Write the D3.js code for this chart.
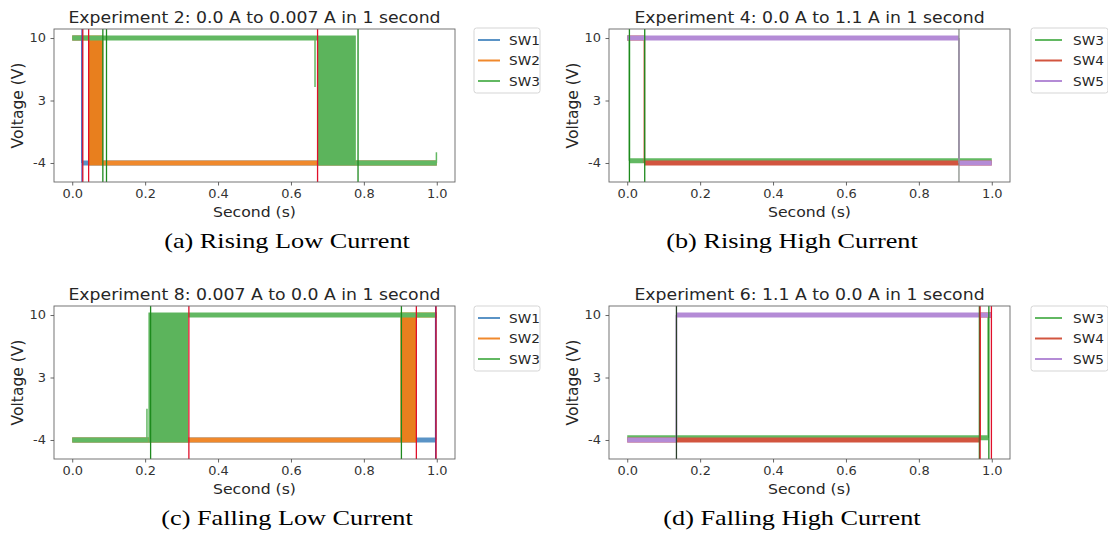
<!DOCTYPE html>
<html><head><meta charset="utf-8">
<script src="https://cdn.jsdelivr.net/npm/d3@7"></script>
<style>body{margin:0;background:#fff} svg{display:block}</style>
</head><body><svg id="c" width="1108" height="537"></svg>
<script>
// ---------- data ----------
const xTicks = [0, 0.2, 0.4, 0.6, 0.8, 1.0];
const yTicks = [-4, 3, 10];
const titles = [
  "Experiment 2: 0.0 A to 0.007 A in 1 second",
  "Experiment 4: 0.0 A to 1.1 A in 1 second",
  "Experiment 8: 0.007 A to 0.0 A in 1 second",
  "Experiment 6: 1.1 A to 0.0 A in 1 second"
];
const captions = ["(a) Rising Low Current", "(b) Rising High Current", "(c) Falling Low Current", "(d) Falling High Current"];
const legendLow = ["SW1", "SW2", "SW3"];
const legendHigh = ["SW3", "SW4", "SW5"];
const seriesColors = {SW1: "#5a93c6", SW2: "#f0892c", SW3: "#62b862", SW4: "#d2553f", SW5: "#b48bd6"};

// steady levels per switch: [t start (s), t end (s), volts]
const exp2Levels = {SW1: [[0, 0.027, 10], [0.027, 1.0, -4]], SW2: [[0, 0.045, 10], [0.085, 1.0, -4]], SW3: [[0, 0.673, 10], [0.778, 1.0, -4]]};
// chattering intervals (signal bouncing between -4 V and 10 V)
const exp2Bursts = {SW2: [[0.045, 0.085]], SW3: [[0.673, 0.778]]};
// isolated spikes: [t, from volts, to volts]
const exp2Spikes = {SW3: [[0.666, 10, 4.5], [0.999, -4, -2.8]]};
// vertical markers: [t, colour name]
const exp2Marks = [[0.027, "blue"], [0.029, "red"], [0.045, "red"], [0.084, "green"], [0.094, "green"], [0.673, "red"], [0.784, "green"]];

const exp4Levels = {SW3: [[0, 0.006, 10], [0.006, 1.0, -3.75]], SW4: [[0, 0.047, 10], [0.047, 1.0, -4]], SW5: [[0, 0.91, 10], [0.91, 1.0, -4]]};
const exp4Bursts = {};
const exp4Spikes = {};
const exp4Marks = [[0.006, "green"], [0.048, "green"], [0.91, "gray"]];

const exp8Levels = {SW1: [[0, 0.997, -4], [0.997, 1.0, 10]], SW2: [[0, 0.9, -4], [0.945, 1.0, 10]], SW3: [[0, 0.209, -4], [0.318, 1.0, 10]]};
const exp8Bursts = {SW2: [[0.9, 0.945]], SW3: [[0.209, 0.318]]};
const exp8Spikes = {SW3: [[0.205, -4, -0.5]]};
const exp8Marks = [[0.215, "green"], [0.32, "red"], [0.903, "green"], [0.944, "red"], [0.997, "blue"], [0.998, "red"]];

const exp6Levels = {SW3: [[0, 0.99, -3.75], [0.99, 1.0, 10]], SW4: [[0, 0.968, -4], [0.968, 1.0, 10]], SW5: [[0, 0.135, -4], [0.135, 1.0, 10]]};
const exp6Bursts = {};
const exp6Spikes = {};
const exp6Marks = [[0.135, "dark"], [0.966, "green"], [0.968, "red"], [0.992, "green"], [0.999, "red"]];

// ---------- layout / style ----------
const markColors = {blue: "#3346b8", red: "#e0102a", green: "#1d8a1d", gray: "#8a8f8a", dark: "#2b3f2b"};
const burstColors = {SW2: "#e87f1e", SW3: "#5cb45c"};
const panelLeft = [54, 609, 54, 609], panelTop = [29, 29, 306, 306];
const panelW = 401, panelH = 153;
const legendLeft = [474, 1031, 474, 1031], legendTop = [28, 28, 306, 306];
const legendW = [66, 77, 66, 77], legendLine = [22, 27, 22, 27], legendText = [35, 42, 35, 42];
const captionX = [287, 792, 287, 792];
const SANS = "'DejaVu Sans', sans-serif";
const SX = 1.08;

const svg = d3.select("#c");
svg.append("rect").attr("width", 1108).attr("height", 537).attr("fill", "#fff");

const panels = [
  {levels: exp2Levels, bursts: exp2Bursts, spikes: exp2Spikes, marks: exp2Marks, names: legendLow},
  {levels: exp4Levels, bursts: exp4Bursts, spikes: exp4Spikes, marks: exp4Marks, names: legendHigh},
  {levels: exp8Levels, bursts: exp8Bursts, spikes: exp8Spikes, marks: exp8Marks, names: legendLow},
  {levels: exp6Levels, bursts: exp6Bursts, spikes: exp6Spikes, marks: exp6Marks, names: legendHigh}
];

function label(g, x, y, s, o) {
  const sx = o.sx || SX;
  return g.append("text")
    .attr("transform", o.rotate ? `translate(${x},${y}) scale(${sx},1) rotate(${o.rotate})` : `translate(${x},${y}) scale(${sx},1)`)
    .attr("font-family", o.family || SANS).attr("font-size", o.size)
    .attr("text-anchor", o.anchor || "middle").attr("fill", o.fill || "#262626")
    .text(s);
}

panels.forEach((p, i) => {
  const L = panelLeft[i], T = panelTop[i];
  const x = d3.scaleLinear().domain([-0.05, 1.05]).range([L, L + panelW]);
  const y = d3.scaleLinear().domain([-6.13, 11.01]).range([T + panelH, T]);
  const g = svg.append("g");
  const clipId = "clip" + i;
  svg.append("clipPath").attr("id", clipId).append("rect").attr("x", L).attr("y", T).attr("width", panelW).attr("height", panelH);
  const plot = g.append("g").attr("clip-path", `url(#${clipId})`);

  p.names.forEach(name => {
    const col = seriesColors[name];
    const lv = p.levels[name] || [];
    const sg = plot.append("g");
    (p.bursts[name] || []).forEach(b => {
      sg.append("rect").attr("x", x(b[0])).attr("width", x(b[1]) - x(b[0]))
        .attr("y", y(10) - 2.5).attr("height", y(-4) - y(10) + 5).attr("fill", burstColors[name] || col);
    });
    lv.forEach(s => {
      sg.append("line").attr("x1", x(s[0])).attr("x2", x(s[1])).attr("y1", y(s[2])).attr("y2", y(s[2]))
        .attr("stroke", col).attr("stroke-width", 5);
    });
    for (let k = 1; k < lv.length; k++) {
      if (lv[k][0] === lv[k - 1][1]) {
        sg.append("line").attr("x1", x(lv[k][0])).attr("x2", x(lv[k][0]))
          .attr("y1", y(lv[k - 1][2])).attr("y2", y(lv[k][2])).attr("stroke", col).attr("stroke-width", 1.6);
      }
    }
    (p.spikes[name] || []).forEach(s => {
      sg.append("line").attr("x1", x(s[0])).attr("x2", x(s[0])).attr("y1", y(s[1])).attr("y2", y(s[2]))
        .attr("stroke", col).attr("stroke-width", 1.5);
    });
  });

  p.marks.forEach(m => {
    plot.append("line").attr("x1", x(m[0])).attr("x2", x(m[0])).attr("y1", T).attr("y2", T + panelH)
      .attr("stroke", markColors[m[1]]).attr("stroke-width", 1.3);
  });

  g.append("rect").attr("x", L).attr("y", T).attr("width", panelW).attr("height", panelH)
    .attr("fill", "none").attr("stroke", "#666").attr("stroke-width", 0.9);

  const ax = g.append("g").attr("transform", `translate(0,${T + panelH})`)
    .call(d3.axisBottom(x).tickValues(xTicks).tickFormat(d3.format(".1f")).tickSize(3.5).tickSizeOuter(0).tickPadding(4));
  const ay = g.append("g").attr("transform", `translate(${L},0)`)
    .call(d3.axisLeft(y).tickValues(yTicks).tickFormat(d => String(d)).tickSize(3.5).tickSizeOuter(0).tickPadding(4));
  [ax, ay].forEach(a => {
    a.select(".domain").remove();
    a.selectAll(".tick line").attr("stroke", "#555").attr("stroke-width", 0.9);
    a.selectAll(".tick text").attr("font-family", SANS).attr("font-size", 12).attr("fill", "#333")
      .attr("transform", `scale(${SX},1)`);
  });

  label(g, L + panelW / 2, T - 6, titles[i], {size: 16});
  label(g, L + panelW / 2, T + panelH + 35, "Second (s)", {size: 14.5});
  label(g, L - 31, T + panelH / 2, "Voltage (V)", {size: 15.5, rotate: -90, sx: 1});
  label(g, captionX[i], T + panelH + 66, captions[i], {size: 21, family: "'Liberation Serif', serif", fill: "#000", sx: 1.25});

  const lg = g.append("g").attr("transform", `translate(${legendLeft[i]},${legendTop[i]})`);
  lg.append("rect").attr("x", 0).attr("y", 0).attr("width", legendW[i]).attr("height", 65).attr("rx", 2.5)
    .attr("fill", "#fff").attr("stroke", "#d5d5d5").attr("stroke-width", 1);
  p.names.forEach((name, k) => {
    const yy = 12 + k * 20.5;
    lg.append("line").attr("x1", 4).attr("x2", 4 + legendLine[i]).attr("y1", yy).attr("y2", yy)
      .attr("stroke", seriesColors[name]).attr("stroke-width", 2);
    label(lg, legendText[i], yy + 4.5, name, {size: 13, anchor: "start", sx: 1.05});
  });
});
</script></body></html>
